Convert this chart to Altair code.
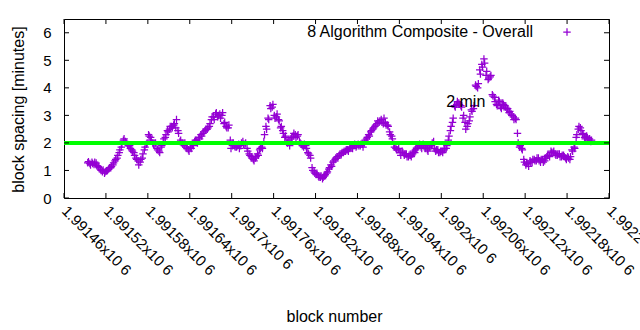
import altair as alt
import pandas as pd

# block spacing in minutes, read every 3 blocks starting at block 1991494 (two interleaved readings)
first_block = 1991494
block_step = 3
spacing = [
    1.28, 1.25, 1.3, 1.22, 1.27,
    1.15, 1.05, 0.95, 0.9, 0.98, 1.05,
    1.1, 1.2, 1.35, 1.45,
    1.65, 1.85,
    2.1, 2.05,
    1.95, 1.9, 1.75, 1.65, 1.45, 1.35, 1.3, 1.45, 1.75, 1.95,
    2.3, 2.2, 2.0, 1.95, 1.8, 1.7, 1.85, 2.05, 2.2, 2.45,
    2.5, 2.6, 2.65, 2.55, 2.45, 2.05, 2.0, 1.9, 1.85, 1.75,
    1.85, 1.95, 2.05, 2.1, 2.2, 2.3, 2.35, 2.45, 2.5, 2.6,
    2.85, 2.95, 3.05, 2.95, 3.05, 3.0, 2.7, 2.6, 2.55, 2.1,
    1.9, 1.9, 1.85, 1.95, 1.9, 2.05, 1.95, 1.8, 1.6, 1.5,
    1.4, 1.45, 1.6, 1.75, 1.85, 2.05, 2.6, 2.9, 3.35, 3.3,
    3.0, 2.95, 2.85, 2.55, 2.45, 2.2, 2.05, 2.1, 2.15, 2.25,
    2.3, 2.25, 2.05, 1.95, 1.85, 1.9, 1.65, 1.55, 1.1, 0.95,
    0.85, 0.8, 0.75, 0.7, 0.8, 0.9, 1.05, 1.2, 1.3, 1.4,
    1.5, 1.55, 1.6, 1.65, 1.7, 1.75, 1.8, 1.85, 1.9, 1.85,
    1.95, 1.9, 1.95, 2.0, 2.15, 2.3, 2.4, 2.5, 2.6, 2.7,
    2.75, 2.85, 2.7, 2.75, 2.65, 2.4, 2.25, 1.95, 1.8, 1.75,
    1.65, 1.7, 1.55, 1.6, 1.5, 1.55, 1.6, 1.65, 1.8, 1.9,
    1.85, 1.95, 1.8, 1.75, 1.85, 1.9, 2.05, 1.7, 1.75, 1.65,
    1.7, 1.75, 1.8, 2.1, 2.45, 2.75, 3.35, 3.4, 3.45, 3.35,
    2.9, 2.75, 2.6, 2.8, 3.2, 3.25, 4.1, 4.0, 4.65, 4.85,
    5.05, 4.45, 4.3, 4.4, 3.75, 3.65, 3.4, 3.55, 3.3, 3.45,
    3.35, 3.2, 3.1, 3.05, 2.95, 2.9, 2.35, 1.85, 1.8, 1.4,
    1.2, 1.25, 1.35, 1.3, 1.4, 1.35, 1.45, 1.3, 1.4, 1.35,
    1.5, 1.55, 1.7, 1.65, 1.6, 1.55, 1.6, 1.5, 1.55, 1.45,
    1.5, 1.4, 1.75, 1.85, 2.2, 2.5, 2.55, 2.35, 2.2, 2.25,
    2.1, 2.05,
]
spacing_b = [
    1.32, 1.2, 1.25, 1.3, 1.18,
    1.1, 1.0, 1.02, 0.95, 1.0, 1.1,
    1.15, 1.28, 1.4, 1.55,
    1.75, 1.95,
    2.15, 2.0,
    1.9, 1.8, 1.7, 1.55, 1.4, 1.2, 1.4, 1.6, 1.85, 2.0,
    2.25, 2.1, 1.95, 2.0, 1.75, 1.65, 1.9, 2.15, 2.3, 2.4,
    2.6, 2.55, 2.7, 2.85, 2.35, 2.1, 1.95, 2.0, 1.8, 1.7,
    1.8, 1.9, 2.1, 2.0, 2.15, 2.25, 2.4, 2.5, 2.55, 2.7,
    2.95, 2.85, 3.1, 3.0, 2.9, 3.1, 2.75, 2.55, 2.65, 1.8,
    2.0, 1.85, 1.9, 1.8, 2.0, 1.95, 2.0, 1.7, 1.55, 1.45,
    1.35, 1.5, 1.55, 1.8, 1.8, 2.3, 2.5, 2.85, 3.25, 3.4,
    2.9, 3.05, 2.8, 2.6, 2.35, 2.25, 2.0, 1.9, 2.2, 2.35,
    2.2, 2.3, 2.0, 1.9, 1.95, 1.8, 1.6, 1.45, 1.0, 0.9,
    0.9, 0.75, 0.8, 0.75, 0.85, 0.95, 1.1, 1.15, 1.35, 1.45,
    1.45, 1.6, 1.65, 1.7, 1.75, 1.7, 1.85, 1.8, 1.95, 1.9,
    1.9, 1.95, 1.85, 2.1, 2.2, 2.25, 2.45, 2.55, 2.65, 2.8,
    2.8, 2.75, 2.9, 2.65, 2.6, 2.3, 2.15, 1.85, 1.75, 1.8,
    1.55, 1.65, 1.6, 1.5, 1.55, 1.5, 1.7, 1.75, 1.85, 1.95,
    1.8, 1.9, 1.85, 1.7, 1.9, 2.0, 1.8, 1.75, 1.65, 1.7,
    1.65, 1.8, 1.9, 2.25, 2.6, 2.9, 3.3, 3.5, 3.4, 3.3,
    3.0, 2.5, 2.7, 2.95, 3.15, 3.35, 4.05, 4.15, 4.5, 4.75,
    4.9, 4.6, 4.35, 4.45, 3.7, 3.5, 3.35, 3.5, 3.25, 3.4,
    3.3, 3.25, 3.15, 3.0, 2.85, 2.85, 2.0, 1.9, 1.75, 1.3,
    1.25, 1.15, 1.3, 1.4, 1.35, 1.45, 1.35, 1.4, 1.3, 1.45,
    1.55, 1.5, 1.65, 1.7, 1.55, 1.6, 1.5, 1.55, 1.5, 1.4,
    1.45, 1.5, 1.7, 1.8, 2.3, 2.6, 2.45, 2.3, 2.15, 2.2,
    2.15, 2.1,
]
blocks = [first_block + block_step * i for i in range(len(spacing))]
blocks_b = [first_block + 1 + block_step * i for i in range(len(spacing_b))]

x_ticks = [1991460, 1991520, 1991580, 1991640, 1991700, 1991760, 1991820,
           1991880, 1991940, 1992000, 1992060, 1992120, 1992180, 1992240]
y_ticks = [0, 1, 2, 3, 4, 5, 6]
x_domain = [1991460, 1992240]
y_domain = [0, 6.5]
target_minutes = 2
label_text = "2 min"
label_block = 1992035
label_value = 3.49
series_name = "8 Algorithm Composite - Overall"

W, H = 545, 179
PURPLE = "#9400d3"
FONT = "Liberation Sans"
PLUS = "M-1,0L1,0M0,-1L0,1"

df = pd.DataFrame({"block": blocks + blocks_b, "spacing": spacing + spacing_b})
xt = pd.DataFrame({"t": x_ticks})
yt = pd.DataFrame({"t": y_ticks})

xs = alt.Scale(domain=x_domain, nice=False, zero=False)
ys = alt.Scale(domain=y_domain, nice=False, zero=False)

x_axis = alt.Axis(values=x_ticks, labelAngle=45, labelAlign="left", labelBaseline="middle",
                  labelPadding=10, ticks=False, tickSize=0, domain=False, grid=False,
                  labelOverlap=False, labelFlush=False, labelBound=False,
                  labelExpr="format(datum.value / 1000000, '.5~f') + 'x10 6'",
                  labelFont=FONT, labelFontSize=15, labelColor="black",
                  title="block number", titleFont=FONT, titleFontSize=16,
                  titleFontWeight="normal", titleColor="black",
                  titleX=270, titleY=118, titleAlign="center", titleBaseline="middle")
y_axis = alt.Axis(values=y_ticks, ticks=False, tickSize=0, domain=False, grid=False,
                  labelOverlap=False, labelFlush=False, labelBound=False,
                  labelPadding=13, labelFont=FONT, labelFontSize=15, labelColor="black",
                  title="block spacing [minutes]", titleFont=FONT, titleFontSize=16,
                  titleFontWeight="normal", titleColor="black", titleAngle=-90,
                  titleX=-46, titleY=90, titleAlign="center", titleBaseline="middle")


def X(field):
    return alt.X(field, scale=xs, axis=x_axis, title="block number")


def Y(field):
    return alt.Y(field, scale=ys, axis=y_axis, title="block spacing [minutes]")


points = alt.Chart(df).mark_point(shape=PLUS, filled=False, size=56, strokeWidth=1.25,
                                  color=PURPLE, opacity=1).encode(
    x=X("block:Q"), y=Y("spacing:Q"))

green = alt.Chart(pd.DataFrame({"v": [target_minutes]})).mark_rule(
    color="#00ff00", strokeWidth=4).encode(y=Y("v:Q"))

ann = alt.Chart(pd.DataFrame({"b": [label_block], "v": [label_value], "t": [label_text]})).mark_text(
    font=FONT, fontSize=16, color="black", align="center", baseline="middle").encode(
    x=X("b:Q"), y=Y("v:Q"), text="t:N")

bt = alt.Chart(xt).mark_rule(color="black", strokeWidth=1).encode(
    x=X("t:Q"), y=alt.value(H), y2=alt.value(H - 5))
tt = alt.Chart(xt).mark_rule(color="black", strokeWidth=1).encode(
    x=X("t:Q"), y=alt.value(0), y2=alt.value(5))
lt = alt.Chart(yt).mark_rule(color="black", strokeWidth=1).encode(
    y=Y("t:Q"), x=alt.value(0), x2=alt.value(5))
rt = alt.Chart(yt).mark_rule(color="black", strokeWidth=1).encode(
    y=Y("t:Q"), x=alt.value(W), x2=alt.value(W - 5))

leg_text = alt.Chart(pd.DataFrame({"t": [series_name]})).mark_text(
    font=FONT, fontSize=16, color="black", align="right", baseline="middle").encode(
    x=alt.value(469), y=alt.value(13), text="t:N")
leg_mark = alt.Chart(pd.DataFrame({"t": [series_name]})).mark_point(
    shape=PLUS, filled=False, size=56, strokeWidth=1.25, color=PURPLE, opacity=1).encode(
    x=alt.value(503), y=alt.value(13))

chart = alt.layer(points, green, ann, bt, tt, lt, rt, leg_text, leg_mark).properties(
    width=W, height=H,
    autosize=alt.AutoSizeParams(type="none"),
    padding={"left": 64, "top": 19, "right": 31, "bottom": 132},
    background="white",
).configure_view(stroke="black", strokeWidth=1).configure_axis(labelOverlap=False)

chart.save("out.html", embed_options={"renderer": "svg", "actions": False})
